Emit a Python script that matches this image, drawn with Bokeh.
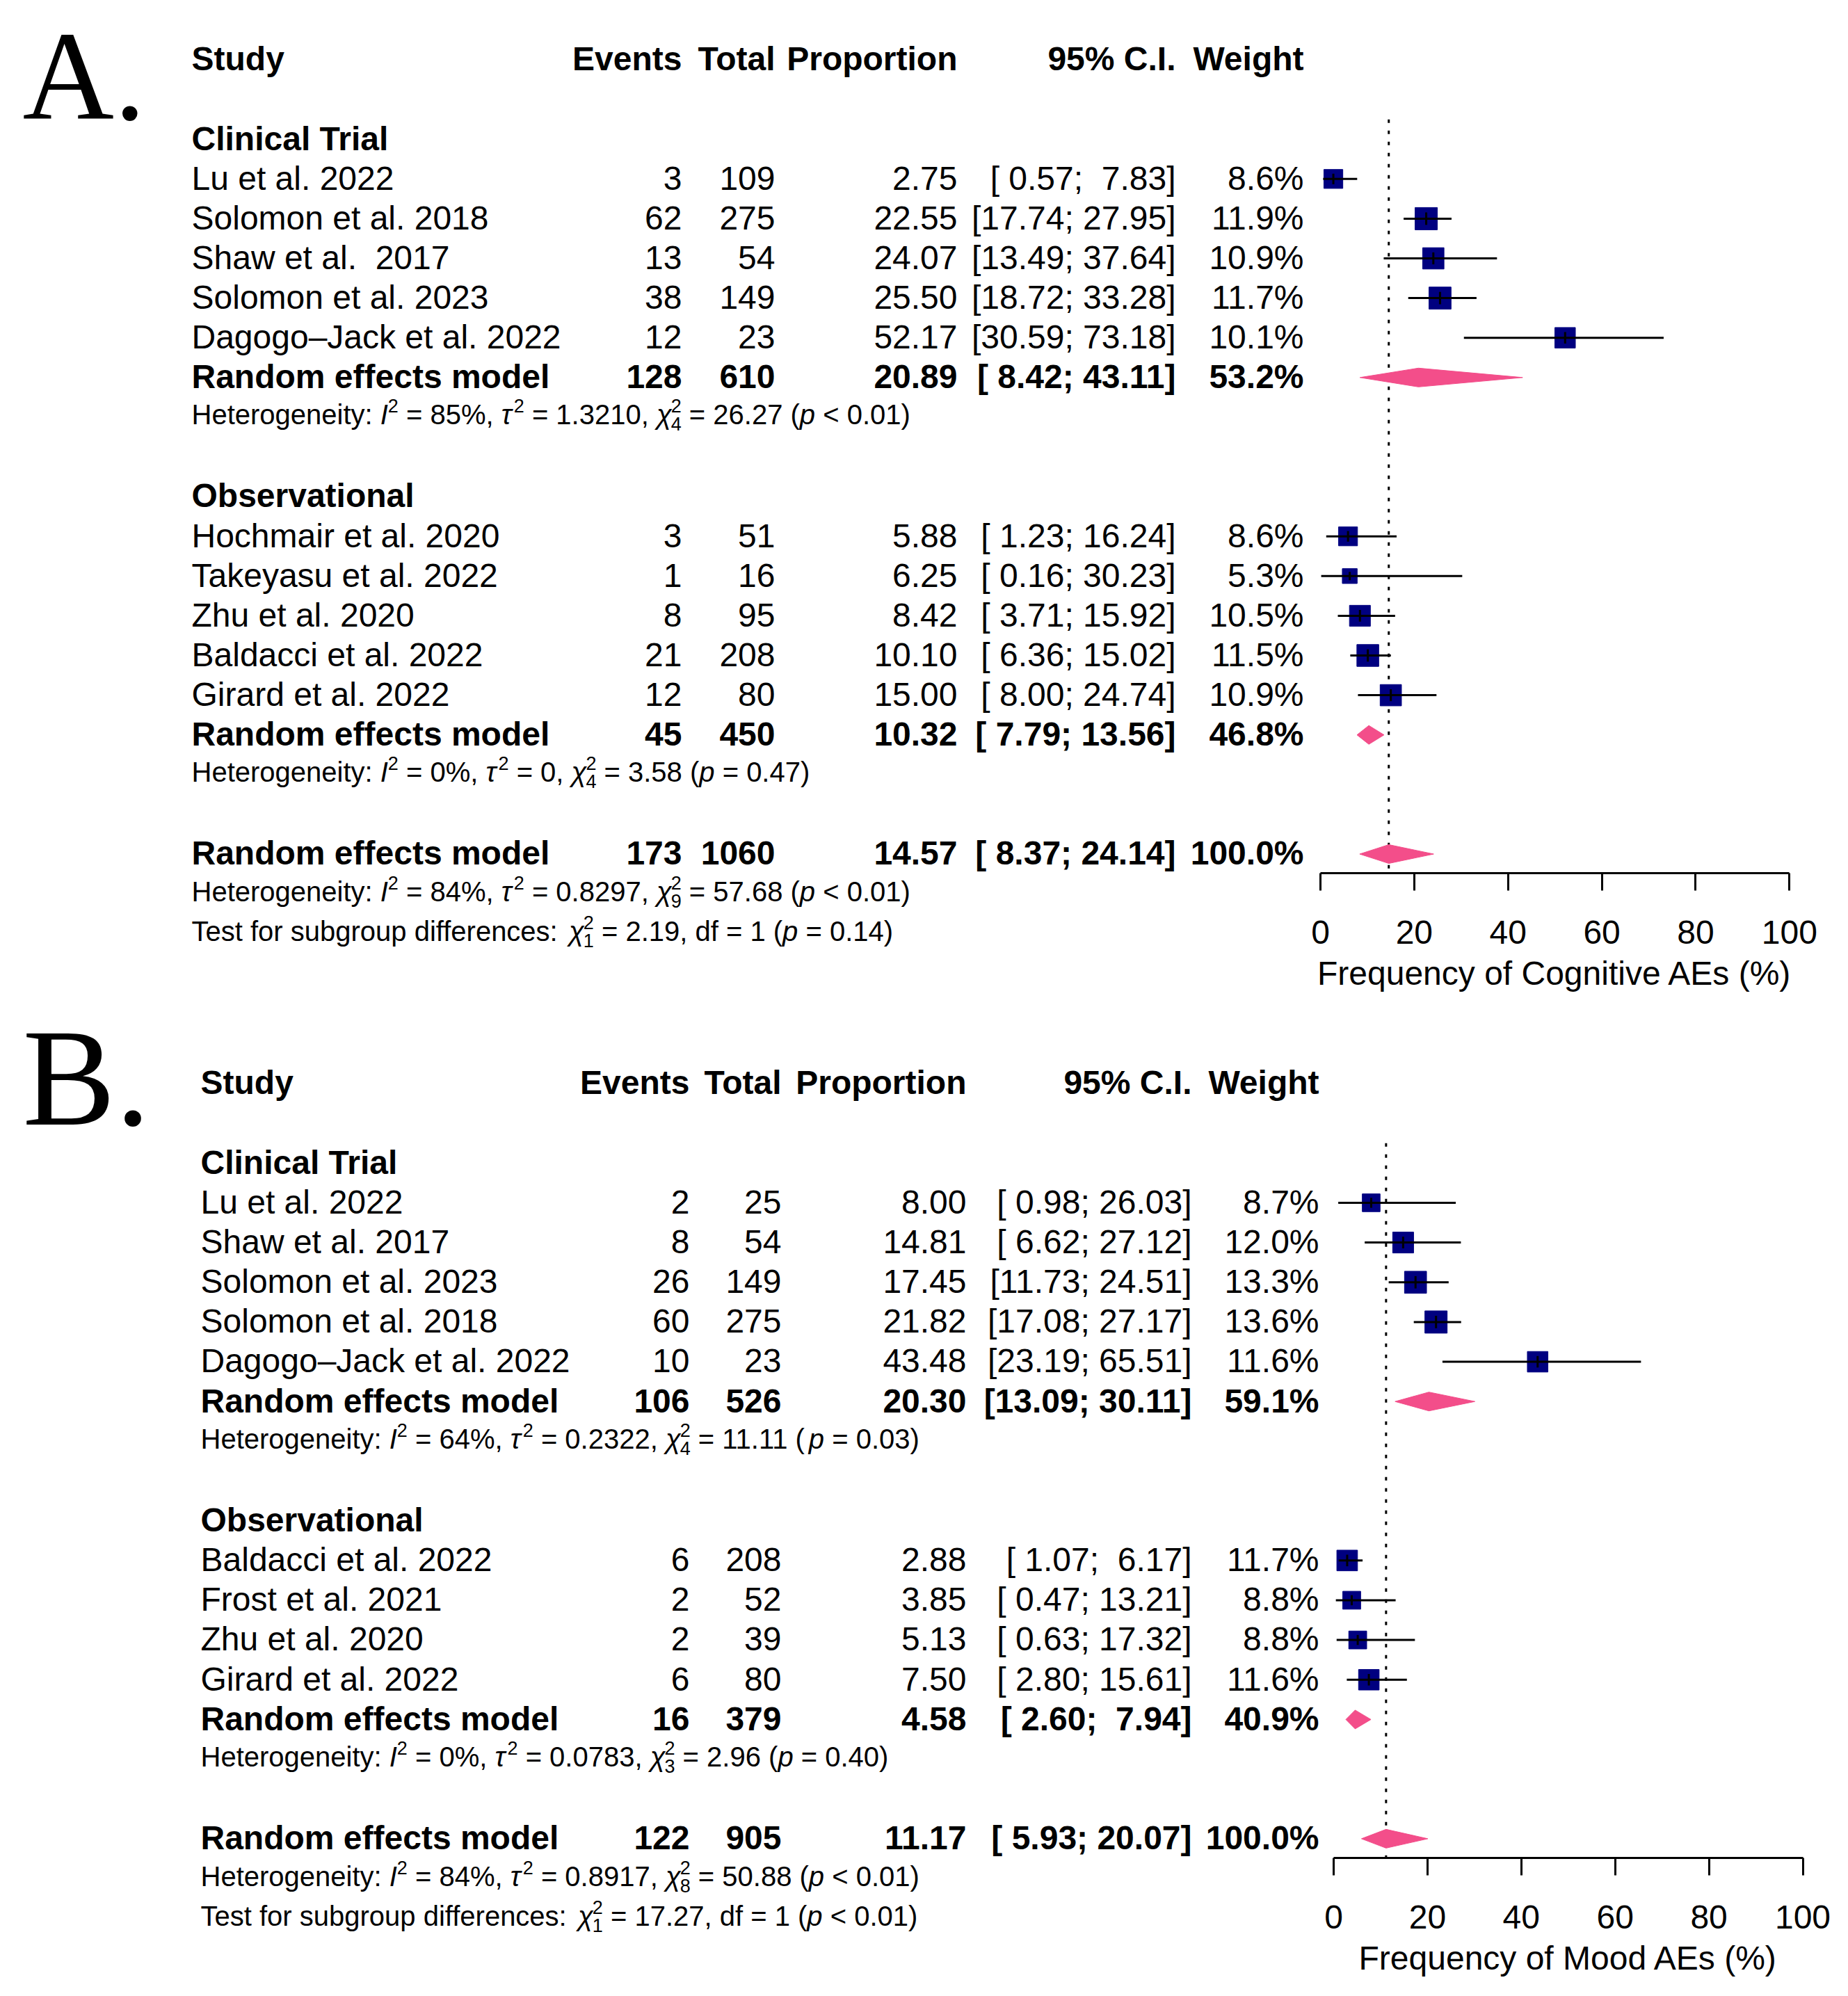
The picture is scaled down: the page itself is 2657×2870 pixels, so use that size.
import math
from bokeh.plotting import figure
from bokeh.layouts import column
from bokeh.models import ColumnDataSource, Range1d, LinearAxis, FixedTicker, Grid
from bokeh.core.properties import value
from bokeh.embed import file_html
from bokeh.resources import INLINE

# ---------------- Panel A: cognitive AEs ----------------
A_ct_label = "Clinical Trial"
A_ct_study = ["Lu et al. 2022", "Solomon et al. 2018", "Shaw et al.  2017",
              "Solomon et al. 2023", "Dagogo–Jack et al. 2022"]
A_ct_events = [3, 62, 13, 38, 12]
A_ct_total = [109, 275, 54, 149, 23]
A_ct_prop = [2.75, 22.55, 24.07, 25.50, 52.17]
A_ct_lo = [0.57, 17.74, 13.49, 18.72, 30.59]
A_ct_hi = [7.83, 27.95, 37.64, 33.28, 73.18]
A_ct_weight = [8.6, 11.9, 10.9, 11.7, 10.1]
A_ct_model = [128, 610, 20.89, 8.42, 43.11, 53.2]
A_ct_het = ["85", "1.3210", 4, "26.27", "< 0.01"]

A_ob_label = "Observational"
A_ob_study = ["Hochmair et al. 2020", "Takeyasu et al. 2022", "Zhu et al. 2020",
              "Baldacci et al. 2022", "Girard et al. 2022"]
A_ob_events = [3, 1, 8, 21, 12]
A_ob_total = [51, 16, 95, 208, 80]
A_ob_prop = [5.88, 6.25, 8.42, 10.10, 15.00]
A_ob_lo = [1.23, 0.16, 3.71, 6.36, 8.00]
A_ob_hi = [16.24, 30.23, 15.92, 15.02, 24.74]
A_ob_weight = [8.6, 5.3, 10.5, 11.5, 10.9]
A_ob_model = [45, 450, 10.32, 7.79, 13.56, 46.8]
A_ob_het = ["0", "0", 4, "3.58", "= 0.47"]

A_all_model = [173, 1060, 14.57, 8.37, 24.14, 100.0]
A_all_het = ["84", "0.8297", 9, "57.68", "< 0.01"]
A_test = [1, "2.19", "= 0.14"]
A_xlabel = "Frequency of Cognitive AEs (%)"

# ---------------- Panel B: mood AEs ----------------
B_ct_label = "Clinical Trial"
B_ct_study = ["Lu et al. 2022", "Shaw et al. 2017", "Solomon et al. 2023",
              "Solomon et al. 2018", "Dagogo–Jack et al. 2022"]
B_ct_events = [2, 8, 26, 60, 10]
B_ct_total = [25, 54, 149, 275, 23]
B_ct_prop = [8.00, 14.81, 17.45, 21.82, 43.48]
B_ct_lo = [0.98, 6.62, 11.73, 17.08, 23.19]
B_ct_hi = [26.03, 27.12, 24.51, 27.17, 65.51]
B_ct_weight = [8.7, 12.0, 13.3, 13.6, 11.6]
B_ct_model = [106, 526, 20.30, 13.09, 30.11, 59.1]
B_ct_het = ["64", "0.2322", 4, "11.11", "= 0.03"]

B_ob_label = "Observational"
B_ob_study = ["Baldacci et al. 2022", "Frost et al. 2021", "Zhu et al. 2020",
              "Girard et al. 2022"]
B_ob_events = [6, 2, 2, 6]
B_ob_total = [208, 52, 39, 80]
B_ob_prop = [2.88, 3.85, 5.13, 7.50]
B_ob_lo = [1.07, 0.47, 0.63, 2.80]
B_ob_hi = [6.17, 13.21, 17.32, 15.61]
B_ob_weight = [11.7, 8.8, 8.8, 11.6]
B_ob_model = [16, 379, 4.58, 2.60, 7.94, 40.9]
B_ob_het = ["0", "0.0783", 3, "2.96", "= 0.40"]

B_all_model = [122, 905, 11.17, 5.93, 20.07, 100.0]
B_all_het = ["84", "0.8917", 8, "50.88", "< 0.01"]
B_test = [1, "17.27", "< 0.01"]
B_xlabel = "Frequency of Mood AEs (%)"

AX_TICKS = [0, 20, 40, 60, 80, 100]

# ---------------- styling ----------------
SANS = "Liberation Sans"
SERIF = "Liberation Serif"
SQUARE_COL = "#000080"
DIAMOND_COL = "#F34E8A"
FS = 48          # main text px
HFS = 40         # heterogeneity text px
SFS = 27         # script px
SQ_MAX = 32      # largest square side px
W = 2657

HELV = {' ': 278, '!': 278, '(': 333, ')': 333, '%': 889, ',': 278, '-': 333, '.': 278,
        ':': 278, ';': 278, '<': 584, '=': 584, '>': 584, '[': 278, ']': 278,
        'A': 667, 'B': 667, 'C': 722, 'D': 722, 'E': 667, 'F': 611, 'G': 778, 'H': 722,
        'I': 278, 'J': 500, 'K': 667, 'L': 556, 'M': 833, 'N': 722, 'O': 778, 'P': 667,
        'Q': 778, 'R': 722, 'S': 667, 'T': 611, 'U': 722, 'V': 667, 'W': 944, 'X': 667,
        'Y': 667, 'Z': 611, 'a': 556, 'b': 556, 'c': 500, 'd': 556, 'e': 556, 'f': 278,
        'g': 556, 'h': 556, 'i': 222, 'j': 222, 'k': 500, 'l': 222, 'm': 833, 'n': 556,
        'o': 556, 'p': 556, 'q': 556, 'r': 333, 's': 500, 't': 278, 'u': 556, 'v': 500,
        'w': 722, 'x': 500, 'y': 500, 'z': 500, 'τ': 450, 'χ': 520}


def tw(s, size):
    return sum(HELV.get(c, 556) for c in s) * size / 1000.0


def keep_spaces(s):
    return s.replace("  ", " \u00a0")


def het_parts(h):
    i2, tau2, df, q, pv = h
    return [("Heterogeneity: ", "n"), ("I", "i"), ("2", "sup"), (f" = {i2}%, ", "n"),
            ("τ", "i"), ("2", "sup"), (f" = {tau2}, ", "n"), ("χ", "i"),
            (("2", str(df)), "ss"), (f" = {q} (", "n"), ("p", "i"), (f" {pv})", "n")]


def test_parts(t):
    df, q, pv = t
    return [("Test for subgroup differences: ", "n"), ("χ", "i"), (("2", str(df)), "ss"),
            (f" = {q}, df = {df} (", "n"), ("p", "i"), (f" {pv})", "n")]


def fmt_ci(lo, hi):
    return keep_spaces(f"[{lo:5.2f}; {hi:5.2f}]")


def build_panel(L, letter, groups, overall, het_all, test, xlabel, height):
    x0, ppu, y0, dy, top = L["x0"], L["ppu"], L["y0"], L["dy"], L["top"]

    def vx(px):
        return (px - x0) / ppu

    def ry(py):
        return (py - y0) / dy

    p = figure(width=W, height=height,
               x_range=Range1d(vx(0), vx(W)),
               y_range=Range1d(ry(top + height), ry(top)),
               output_backend="svg", toolbar_location=None,
               x_axis_location=None, y_axis_location=None,
               min_border=0, outline_line_color=None,
               background_fill_color="white", border_fill_color="white")
    for g in p.select(type=Grid):
        g.visible = False

    texts = []

    def T(xpx, row, s, style="normal", align="left", size=FS, font=SANS, base_px=None):
        # base_px: desired baseline offset below the row centre, in px
        if base_px is None:
            base_px = 0.358 * size
        anchor_px = base_px - (0.35 * size + 1.5)
        texts.append((vx(xpx), row + anchor_px / dy, s, size, style, align, font))

    HB = 12.0

    def layout_parts(parts, row):
        cur = L["study"]
        sp_main = tw(" ", HFS)
        for t, kind in parts:
            if kind in ("n", "i"):
                lead = len(t) - len(t.lstrip(" "))
                trail = len(t) - len(t.rstrip(" "))
                core = t.strip(" ")
                cur += lead * sp_main
                T(cur, row, core, "normal" if kind == "n" else "italic", "left", HFS, base_px=HB)
                cur += tw(core, HFS) + trail * sp_main
            elif kind == "sup":
                T(cur, row, t, "normal", "left", SFS, base_px=HB - 17.0)
                cur += tw(t, SFS)
            elif kind == "ss":
                T(cur, row, t[0], "normal", "left", SFS, base_px=HB - 17.0)
                T(cur, row, t[1], "normal", "left", SFS, base_px=HB + 9.0)
                cur += max(tw(t[0], SFS), tw(t[1], SFS))

    def numrow(row, name, ev, tot, pr, lo, hi, w, style):
        T(L["study"], row, keep_spaces(name), style)
        T(L["events"], row, str(ev), style, "right")
        T(L["total"], row, str(tot), style, "right")
        T(L["prop"], row, f"{pr:.2f}", style, "right")
        T(L["ci"], row, fmt_ci(lo, hi), style, "right")
        T(L["weight"], row, f"{w:.1f}%", style, "right")

    # panel letter (baseline given in page px)
    T(L["lx"], ry(L["ly"]), letter, "normal", "left", L["lsize"], SERIF, base_px=0)
    # header
    T(L["study"], 0, "Study", "bold")
    for key, lab in [("events", "Events"), ("total", "Total"), ("prop", "Proportion"),
                     ("ci", "95% C.I."), ("weight", "Weight")]:
        T(L[key], 0, lab, "bold", "right")

    sq = dict(x=[], y=[], size=[], lo=[], hi=[], t0=[], t1=[])
    dia = dict(xs=[], ys=[])
    maxw = max(max(g["weight"]) for g in groups)
    DH = 13.5 / dy

    def add_diamond(row, est, lo, hi):
        dia["xs"].append([lo, est, hi, est])
        dia["ys"].append([row, row - DH, row, row + DH])

    row = 2
    for g in groups:
        T(L["study"], row, g["label"], "bold")
        row += 1
        for i in range(len(g["study"])):
            numrow(row, g["study"][i], g["events"][i], g["total"][i], g["prop"][i],
                   g["lo"][i], g["hi"][i], g["weight"][i], "normal")
            side = SQ_MAX * math.sqrt(g["weight"][i] / maxw)
            sq["x"].append(g["prop"][i])
            sq["y"].append(row)
            sq["size"].append(side)
            sq["lo"].append(g["lo"][i])
            sq["hi"].append(g["hi"][i])
            sq["t0"].append(row - 0.28 * side / dy)
            sq["t1"].append(row + 0.28 * side / dy)
            row += 1
        m = g["model"]
        numrow(row, "Random effects model", *m, "bold")
        add_diamond(row, m[2], m[3], m[4])
        row += 1
        layout_parts(het_parts(g["het"]), row)
        row += 2

    numrow(row, "Random effects model", *overall, "bold")
    add_diamond(row, overall[2], overall[3], overall[4])
    axis_row = row + 0.48
    layout_parts(het_parts(het_all), row + 1)
    layout_parts(test_parts(test), row + 2)

    # reference line at overall estimate
    p.segment(x0=[overall[2]], x1=[overall[2]], y0=[1.5], y1=[axis_row],
              line_color="black", line_width=3, line_dash="5 11")

    src = ColumnDataSource(sq)
    p.scatter(x="x", y="y", size="size", marker="square", source=src,
              fill_color=SQUARE_COL, line_color=SQUARE_COL)
    p.segment(x0="lo", x1="hi", y0="y", y1="y", source=src, line_color="black", line_width=3)
    p.segment(x0="x", x1="x", y0="t0", y1="t1", source=src, line_color="black", line_width=3)
    p.patches(xs="xs", ys="ys", source=ColumnDataSource(dia),
              fill_color=DIAMOND_COL, line_color=DIAMOND_COL, line_width=1)

    groups_t = {}
    for (x, y, t, size, style, align, font) in texts:
        d = groups_t.setdefault((size, style, align, font), {"x": [], "y": [], "text": []})
        d["x"].append(x)
        d["y"].append(y)
        d["text"].append(t)
    for (size, style, align, font), d in groups_t.items():
        p.text(x="x", y="y", text="text", source=ColumnDataSource(d),
               text_font=value(font), text_font_size=value(f"{size}px"),
               text_font_style=value(style), text_align=value(align),
               text_baseline=value("alphabetic"), text_color="black")

    ax = LinearAxis(fixed_location=axis_row, bounds=(0, 100),
                    ticker=FixedTicker(ticks=AX_TICKS), axis_label=xlabel,
                    axis_line_width=3, axis_line_color="black",
                    major_tick_line_width=3, major_tick_line_color="black",
                    major_tick_in=0, major_tick_out=25, minor_tick_line_color=None,
                    major_label_text_font=SANS, major_label_text_font_size=f"{FS}px",
                    major_label_text_color="black", major_label_standoff=44,
                    axis_label_text_font=SANS, axis_label_text_font_size=f"{FS}px",
                    axis_label_text_font_style="normal", axis_label_text_color="black",
                    axis_label_standoff=12)
    p.add_layout(ax, "below")
    return p


def grp(label, study, events, total, prop, lo, hi, weight, model, het):
    return dict(label=label, study=study, events=events, total=total, prop=prop,
                lo=lo, hi=hi, weight=weight, model=model, het=het)


TOP_B = 1435
LA = dict(x0=1898, ppu=6.743, y0=85.5, dy=57.1, top=0, study=275, events=980, total=1114,
          prop=1376, ci=1690, weight=1874, lx=32, ly=174, lsize=182)
LB = dict(x0=1917, ppu=6.745, y0=1557.5, dy=57.15, top=TOP_B, study=288, events=991,
          total=1123, prop=1389, ci=1713, weight=1896, lx=32, ly=1620, lsize=200)

pA = build_panel(LA, "A.",
                 [grp(A_ct_label, A_ct_study, A_ct_events, A_ct_total, A_ct_prop, A_ct_lo,
                      A_ct_hi, A_ct_weight, A_ct_model, A_ct_het),
                  grp(A_ob_label, A_ob_study, A_ob_events, A_ob_total, A_ob_prop, A_ob_lo,
                      A_ob_hi, A_ob_weight, A_ob_model, A_ob_het)],
                 A_all_model, A_all_het, A_test, A_xlabel, TOP_B)
pB = build_panel(LB, "B.",
                 [grp(B_ct_label, B_ct_study, B_ct_events, B_ct_total, B_ct_prop, B_ct_lo,
                      B_ct_hi, B_ct_weight, B_ct_model, B_ct_het),
                  grp(B_ob_label, B_ob_study, B_ob_events, B_ob_total, B_ob_prop, B_ob_lo,
                      B_ob_hi, B_ob_weight, B_ob_model, B_ob_het)],
                 B_all_model, B_all_het, B_test, B_xlabel, 2868 - TOP_B)

layout = column(pA, pB)
open("out.html", "w").write(file_html(layout, INLINE))
